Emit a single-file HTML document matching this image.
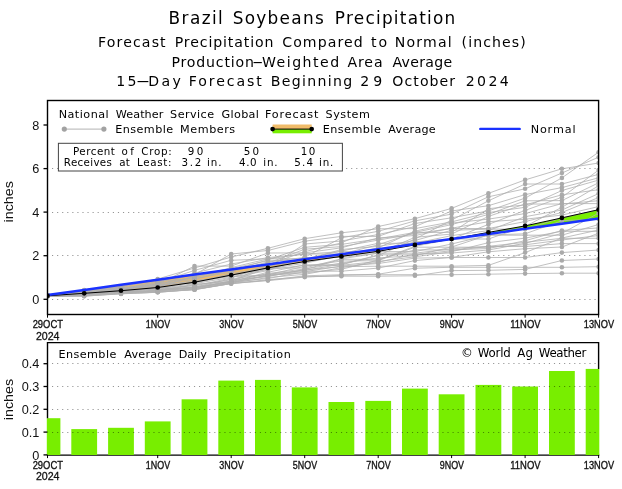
<!DOCTYPE html>
<html lang="en"><head><meta charset="utf-8"><title>Brazil Soybeans Precipitation</title>
<style>html,body{margin:0;padding:0;background:#fff}svg{display:block}</style></head>
<body>
<svg width="622" height="489" viewBox="0 0 622 489" font-family='"Liberation Sans", sans-serif'>
<rect width="622" height="489" fill="#fff"/>
<line x1="52.0" x2="598.6" y1="299.5" y2="299.5" stroke="#000" stroke-opacity="0.42" stroke-width="1" stroke-dasharray="1.15 3.92"/>
<line x1="52.0" x2="598.6" y1="255.5" y2="255.5" stroke="#000" stroke-opacity="0.42" stroke-width="1" stroke-dasharray="1.15 3.92"/>
<line x1="52.0" x2="598.6" y1="212.5" y2="212.5" stroke="#000" stroke-opacity="0.42" stroke-width="1" stroke-dasharray="1.15 3.92"/>
<line x1="52.0" x2="598.6" y1="168.5" y2="168.5" stroke="#000" stroke-opacity="0.42" stroke-width="1" stroke-dasharray="1.15 3.92"/>
<clipPath id="cp"><rect x="47.5" y="100.5" width="551.1" height="214.0"/></clipPath><g clip-path="url(#cp)">
<polygon points="47.50,295.79 84.24,293.33 84.24,289.85 47.50,294.94" fill="#f0bc6a"/>
<polygon points="84.24,293.33 120.98,290.74 120.98,284.77 84.24,289.85" fill="#f0bc6a"/>
<polygon points="120.98,290.74 157.72,287.53 157.72,279.68 120.98,284.77" fill="#f0bc6a"/>
<polygon points="157.72,287.53 194.46,282.22 194.46,274.59 157.72,279.68" fill="#f0bc6a"/>
<polygon points="194.46,282.22 231.20,275.11 231.20,269.50 194.46,274.59" fill="#f0bc6a"/>
<polygon points="231.20,275.11 267.94,267.94 267.94,264.41 231.20,269.50" fill="#f0bc6a"/>
<polygon points="267.94,267.94 304.68,261.49 304.68,259.33 267.94,264.41" fill="#f0bc6a"/>
<polygon points="304.68,261.49 341.42,256.44 341.42,254.24 304.68,259.33" fill="#f0bc6a"/>
<polygon points="341.42,256.44 378.16,251.27 378.16,249.15 341.42,254.24" fill="#f0bc6a"/>
<polygon points="378.16,251.27 414.90,244.93 414.90,244.06 378.16,249.15" fill="#f0bc6a"/>
<polygon points="414.90,244.93 451.64,239.14 451.64,238.97 414.90,244.06" fill="#f0bc6a"/>
<polygon points="451.64,239.14 455.39,238.46 455.39,238.46 451.64,238.97" fill="#f0bc6a"/>
<polygon points="455.39,238.46 488.38,232.45 488.38,233.89 455.39,238.46" fill="#78ee00"/>
<polygon points="488.38,232.45 525.12,225.91 525.12,228.80 488.38,233.89" fill="#78ee00"/>
<polygon points="525.12,225.91 561.86,217.89 561.86,223.71 525.12,228.80" fill="#78ee00"/>
<polygon points="561.86,217.89 598.60,209.68 598.60,218.62 561.86,223.71" fill="#78ee00"/>
<g stroke="#b0b0b0" stroke-width="0.8" fill="none">
<polyline points="47.5,296.0 84.2,293.4 121.0,289.3 157.7,283.3 194.5,277.5 231.2,267.6 267.9,258.9 304.7,254.0 341.4,254.0 378.2,244.8 414.9,232.4 451.6,224.6 488.4,214.4 525.1,200.8 561.9,200.6 598.6,182.8"/>
<polyline points="47.5,296.0 84.2,294.9 121.0,292.6 157.7,290.3 194.5,288.1 231.2,282.2 267.9,278.5 304.7,271.7 341.4,266.0 378.2,263.5 414.9,258.1 451.6,257.5 488.4,257.5 525.1,257.5 561.9,252.6 598.6,250.0"/>
<polyline points="47.5,295.9 84.2,295.8 121.0,293.7 157.7,292.3 194.5,289.2 231.2,283.6 267.9,279.7 304.7,276.7 341.4,276.2 378.2,276.2 414.9,275.8 451.6,270.6 488.4,270.3 525.1,269.4 561.9,260.5 598.6,259.0"/>
<polyline points="47.5,295.4 84.2,292.5 121.0,290.4 157.7,289.4 194.5,287.6 231.2,281.9 267.9,275.5 304.7,269.9 341.4,266.7 378.2,266.2 414.9,266.2 451.6,266.2 488.4,265.4 525.1,252.6 561.9,238.0 598.6,230.0"/>
<polyline points="47.5,296.0 84.2,294.5 121.0,291.9 157.7,287.7 194.5,282.3 231.2,273.6 267.9,267.8 304.7,244.0 341.4,241.0 378.2,234.5 414.9,226.7 451.6,211.0 488.4,205.7 525.1,194.6 561.9,187.6 598.6,177.8"/>
<polyline points="47.5,296.2 84.2,296.1 121.0,293.9 157.7,292.1 194.5,289.7 231.2,283.2 267.9,277.5 304.7,274.3 341.4,267.7 378.2,262.3 414.9,254.1 451.6,253.0 488.4,250.0 525.1,243.3 561.9,233.4 598.6,213.1"/>
<polyline points="47.5,295.6 84.2,291.9 121.0,289.6 157.7,284.2 194.5,266.1 231.2,266.1 267.9,253.0 304.7,252.9 341.4,247.8 378.2,237.9 414.9,235.5 451.6,228.2 488.4,221.7 525.1,219.2 561.9,215.1 598.6,206.6"/>
<polyline points="47.5,296.1 84.2,294.7 121.0,292.3 157.7,290.5 194.5,287.2 231.2,278.8 267.9,274.3 304.7,270.4 341.4,264.2 378.2,255.6 414.9,239.1 451.6,220.1 488.4,200.8 525.1,184.0 561.9,184.0 598.6,174.4"/>
<polyline points="47.5,296.0 84.2,293.3 121.0,291.2 157.7,286.8 194.5,276.6 231.2,270.8 267.9,259.8 304.7,247.3 341.4,244.4 378.2,238.9 414.9,232.4 451.6,232.4 488.4,208.7 525.1,204.9 561.9,194.8 598.6,189.7"/>
<polyline points="47.5,295.8 84.2,293.9 121.0,291.0 157.7,288.8 194.5,287.5 231.2,281.7 267.9,272.2 304.7,264.9 341.4,264.9 378.2,254.8 414.9,254.8 451.6,250.7 488.4,246.5 525.1,246.5 561.9,243.6 598.6,243.6"/>
<polyline points="47.5,295.7 84.2,293.1 121.0,289.9 157.7,283.8 194.5,279.5 231.2,269.7 267.9,263.2 304.7,249.2 341.4,246.6 378.2,240.1 414.9,233.7 451.6,228.5 488.4,228.5 525.1,221.6 561.9,212.5 598.6,197.5"/>
<polyline points="47.5,295.2 84.2,290.8 121.0,286.7 157.7,279.0 194.5,268.0 231.2,257.0 267.9,248.3 304.7,238.7 341.4,232.8 378.2,228.8 414.9,228.6 451.6,221.9 488.4,212.6 525.1,207.3 561.9,190.5 598.6,180.1"/>
<polyline points="47.5,295.5 84.2,291.7 121.0,288.5 157.7,287.3 194.5,275.8 231.2,268.6 267.9,260.8 304.7,260.0 341.4,249.5 378.2,246.4 414.9,240.5 451.6,230.3 488.4,229.1 525.1,229.1 561.9,217.9 598.6,209.8"/>
<polyline points="47.5,295.8 84.2,292.8 121.0,290.6 157.7,290.0 194.5,288.4 231.2,280.8 267.9,265.8 304.7,262.1 341.4,256.3 378.2,251.7 414.9,241.9 451.6,239.0 488.4,239.0 525.1,226.5 561.9,207.3 598.6,185.8"/>
<polyline points="47.5,296.1 84.2,294.5 121.0,292.5 157.7,290.7 194.5,284.9 231.2,279.9 267.9,276.5 304.7,269.5 341.4,259.3 378.2,259.3 414.9,249.9 451.6,249.9 488.4,248.5 525.1,240.7 561.9,230.5 598.6,227.9"/>
<polyline points="47.5,296.2 84.2,295.4 121.0,293.2 157.7,290.4 194.5,284.3 231.2,281.5 267.9,273.5 304.7,269.0 341.4,263.0 378.2,257.9 414.9,255.7 451.6,247.0 488.4,235.0 525.1,233.8 561.9,220.7 598.6,219.1"/>
<polyline points="47.5,295.7 84.2,292.3 121.0,288.9 157.7,282.5 194.5,270.4 231.2,260.3 267.9,258.8 304.7,258.8 341.4,251.1 378.2,243.3 414.9,243.3 451.6,235.6 488.4,230.6 525.1,216.7 561.9,210.0 598.6,193.6"/>
<polyline points="47.5,295.2 84.2,290.1 121.0,287.1 157.7,280.1 194.5,274.7 231.2,254.0 267.9,250.5 304.7,241.2 341.4,236.4 378.2,236.4 414.9,223.5 451.6,217.8 488.4,210.9 525.1,198.1 561.9,177.9 598.6,152.2"/>
<polyline points="47.5,295.8 84.2,293.6 121.0,292.1 157.7,291.4 194.5,288.8 231.2,282.8 267.9,274.8 304.7,266.3 341.4,261.0 378.2,260.7 414.9,247.2 451.6,247.2 488.4,247.2 525.1,244.8 561.9,240.0 598.6,235.5"/>
<polyline points="47.5,295.9 84.2,294.2 121.0,291.6 157.7,288.4 194.5,283.7 231.2,277.3 267.9,270.6 304.7,257.3 341.4,237.8 378.2,231.3 414.9,220.9 451.6,214.1 488.4,196.8 525.1,188.8 561.9,173.0 598.6,157.2"/>
<polyline points="47.5,295.5 84.2,292.9 121.0,290.8 157.7,288.0 194.5,286.0 231.2,278.0 267.9,264.6 304.7,251.7 341.4,242.9 378.2,226.5 414.9,218.7 451.6,208.4 488.4,193.4 525.1,179.9 561.9,168.8 598.6,163.0"/>
<polyline points="47.5,296.2 84.2,296.2 121.0,293.5 157.7,292.3 194.5,289.5 231.2,283.5 267.9,280.3 304.7,275.8 341.4,274.7 378.2,274.7 414.9,274.7 451.6,274.7 488.4,274.2 525.1,273.6 561.9,273.2 598.6,273.2"/>
<polyline points="47.5,296.1 84.2,294.4 121.0,292.9 157.7,291.7 194.5,289.7 231.2,283.6 267.9,280.6 304.7,277.1 341.4,275.3 378.2,274.2 414.9,268.2 451.6,267.3 488.4,267.3 525.1,267.3 561.9,267.3 598.6,266.7"/>
<polyline points="47.5,295.5 84.2,290.4 121.0,288.7 157.7,285.7 194.5,273.1 231.2,264.0 267.9,257.6 304.7,254.1 341.4,251.6 378.2,251.6 414.9,251.6 451.6,244.0 488.4,235.2 525.1,235.2 561.9,235.2 598.6,224.5"/>
<polyline points="47.5,295.3 84.2,292.1 121.0,290.2 157.7,284.7 194.5,281.6 231.2,274.8 267.9,268.7 304.7,263.3 341.4,255.1 378.2,247.8 414.9,231.2 451.6,223.1 488.4,219.1 525.1,213.6 561.9,203.6 598.6,203.6"/>
<polyline points="47.5,296.0 84.2,294.6 121.0,292.2 157.7,291.1 194.5,287.8 231.2,282.4 267.9,276.0 304.7,271.2 341.4,271.2 378.2,268.1 414.9,260.6 451.6,257.4 488.4,251.8 525.1,248.7 561.9,247.0 598.6,233.2"/>
<polyline points="47.5,295.6 84.2,291.8 121.0,287.6 157.7,285.1 194.5,283.0 231.2,275.7 267.9,269.6 304.7,265.3 341.4,265.3 378.2,261.4 414.9,256.8 451.6,251.7 488.4,242.7 525.1,238.1 561.9,231.3 598.6,231.3"/>
<polyline points="47.5,295.7 84.2,291.5 121.0,289.1 157.7,281.2 194.5,278.4 231.2,272.2 267.9,261.8 304.7,257.5 341.4,257.5 378.2,253.1 414.9,237.3 451.6,234.1 488.4,216.4 525.1,204.0 561.9,204.0 598.6,200.7"/>
<polyline points="47.5,295.4 84.2,291.2 121.0,288.1 157.7,286.3 194.5,280.6 231.2,276.5 267.9,275.1 304.7,272.9 341.4,269.3 378.2,260.1 414.9,246.3 451.6,239.0 488.4,224.4 525.1,210.4 561.9,197.3 598.6,170.1"/>
<polyline points="47.5,296.2 84.2,295.1 121.0,292.4 157.7,290.9 194.5,286.8 231.2,281.3 267.9,268.0 304.7,268.0 341.4,258.8 378.2,253.2 414.9,253.2 451.6,248.8 488.4,246.3 525.1,242.3 561.9,238.3 598.6,238.3"/>
</g>
<g fill="#aaaaaa">
<circle cx="47.5" cy="296.0" r="2.3"/>
<circle cx="84.2" cy="293.4" r="2.3"/>
<circle cx="121.0" cy="289.3" r="2.3"/>
<circle cx="157.7" cy="283.3" r="2.3"/>
<circle cx="194.5" cy="277.5" r="2.3"/>
<circle cx="231.2" cy="267.6" r="2.3"/>
<circle cx="267.9" cy="258.9" r="2.3"/>
<circle cx="304.7" cy="254.0" r="2.3"/>
<circle cx="341.4" cy="254.0" r="2.3"/>
<circle cx="378.2" cy="244.8" r="2.3"/>
<circle cx="414.9" cy="232.4" r="2.3"/>
<circle cx="451.6" cy="224.6" r="2.3"/>
<circle cx="488.4" cy="214.4" r="2.3"/>
<circle cx="525.1" cy="200.8" r="2.3"/>
<circle cx="561.9" cy="200.6" r="2.3"/>
<circle cx="598.6" cy="182.8" r="2.3"/>
<circle cx="47.5" cy="296.0" r="2.3"/>
<circle cx="84.2" cy="294.9" r="2.3"/>
<circle cx="121.0" cy="292.6" r="2.3"/>
<circle cx="157.7" cy="290.3" r="2.3"/>
<circle cx="194.5" cy="288.1" r="2.3"/>
<circle cx="231.2" cy="282.2" r="2.3"/>
<circle cx="267.9" cy="278.5" r="2.3"/>
<circle cx="304.7" cy="271.7" r="2.3"/>
<circle cx="341.4" cy="266.0" r="2.3"/>
<circle cx="378.2" cy="263.5" r="2.3"/>
<circle cx="414.9" cy="258.1" r="2.3"/>
<circle cx="451.6" cy="257.5" r="2.3"/>
<circle cx="488.4" cy="257.5" r="2.3"/>
<circle cx="525.1" cy="257.5" r="2.3"/>
<circle cx="561.9" cy="252.6" r="2.3"/>
<circle cx="598.6" cy="250.0" r="2.3"/>
<circle cx="47.5" cy="295.9" r="2.3"/>
<circle cx="84.2" cy="295.8" r="2.3"/>
<circle cx="121.0" cy="293.7" r="2.3"/>
<circle cx="157.7" cy="292.3" r="2.3"/>
<circle cx="194.5" cy="289.2" r="2.3"/>
<circle cx="231.2" cy="283.6" r="2.3"/>
<circle cx="267.9" cy="279.7" r="2.3"/>
<circle cx="304.7" cy="276.7" r="2.3"/>
<circle cx="341.4" cy="276.2" r="2.3"/>
<circle cx="378.2" cy="276.2" r="2.3"/>
<circle cx="414.9" cy="275.8" r="2.3"/>
<circle cx="451.6" cy="270.6" r="2.3"/>
<circle cx="488.4" cy="270.3" r="2.3"/>
<circle cx="525.1" cy="269.4" r="2.3"/>
<circle cx="561.9" cy="260.5" r="2.3"/>
<circle cx="598.6" cy="259.0" r="2.3"/>
<circle cx="47.5" cy="295.4" r="2.3"/>
<circle cx="84.2" cy="292.5" r="2.3"/>
<circle cx="121.0" cy="290.4" r="2.3"/>
<circle cx="157.7" cy="289.4" r="2.3"/>
<circle cx="194.5" cy="287.6" r="2.3"/>
<circle cx="231.2" cy="281.9" r="2.3"/>
<circle cx="267.9" cy="275.5" r="2.3"/>
<circle cx="304.7" cy="269.9" r="2.3"/>
<circle cx="341.4" cy="266.7" r="2.3"/>
<circle cx="378.2" cy="266.2" r="2.3"/>
<circle cx="414.9" cy="266.2" r="2.3"/>
<circle cx="451.6" cy="266.2" r="2.3"/>
<circle cx="488.4" cy="265.4" r="2.3"/>
<circle cx="525.1" cy="252.6" r="2.3"/>
<circle cx="561.9" cy="238.0" r="2.3"/>
<circle cx="598.6" cy="230.0" r="2.3"/>
<circle cx="47.5" cy="296.0" r="2.3"/>
<circle cx="84.2" cy="294.5" r="2.3"/>
<circle cx="121.0" cy="291.9" r="2.3"/>
<circle cx="157.7" cy="287.7" r="2.3"/>
<circle cx="194.5" cy="282.3" r="2.3"/>
<circle cx="231.2" cy="273.6" r="2.3"/>
<circle cx="267.9" cy="267.8" r="2.3"/>
<circle cx="304.7" cy="244.0" r="2.3"/>
<circle cx="341.4" cy="241.0" r="2.3"/>
<circle cx="378.2" cy="234.5" r="2.3"/>
<circle cx="414.9" cy="226.7" r="2.3"/>
<circle cx="451.6" cy="211.0" r="2.3"/>
<circle cx="488.4" cy="205.7" r="2.3"/>
<circle cx="525.1" cy="194.6" r="2.3"/>
<circle cx="561.9" cy="187.6" r="2.3"/>
<circle cx="598.6" cy="177.8" r="2.3"/>
<circle cx="47.5" cy="296.2" r="2.3"/>
<circle cx="84.2" cy="296.1" r="2.3"/>
<circle cx="121.0" cy="293.9" r="2.3"/>
<circle cx="157.7" cy="292.1" r="2.3"/>
<circle cx="194.5" cy="289.7" r="2.3"/>
<circle cx="231.2" cy="283.2" r="2.3"/>
<circle cx="267.9" cy="277.5" r="2.3"/>
<circle cx="304.7" cy="274.3" r="2.3"/>
<circle cx="341.4" cy="267.7" r="2.3"/>
<circle cx="378.2" cy="262.3" r="2.3"/>
<circle cx="414.9" cy="254.1" r="2.3"/>
<circle cx="451.6" cy="253.0" r="2.3"/>
<circle cx="488.4" cy="250.0" r="2.3"/>
<circle cx="525.1" cy="243.3" r="2.3"/>
<circle cx="561.9" cy="233.4" r="2.3"/>
<circle cx="598.6" cy="213.1" r="2.3"/>
<circle cx="47.5" cy="295.6" r="2.3"/>
<circle cx="84.2" cy="291.9" r="2.3"/>
<circle cx="121.0" cy="289.6" r="2.3"/>
<circle cx="157.7" cy="284.2" r="2.3"/>
<circle cx="194.5" cy="266.1" r="2.3"/>
<circle cx="231.2" cy="266.1" r="2.3"/>
<circle cx="267.9" cy="253.0" r="2.3"/>
<circle cx="304.7" cy="252.9" r="2.3"/>
<circle cx="341.4" cy="247.8" r="2.3"/>
<circle cx="378.2" cy="237.9" r="2.3"/>
<circle cx="414.9" cy="235.5" r="2.3"/>
<circle cx="451.6" cy="228.2" r="2.3"/>
<circle cx="488.4" cy="221.7" r="2.3"/>
<circle cx="525.1" cy="219.2" r="2.3"/>
<circle cx="561.9" cy="215.1" r="2.3"/>
<circle cx="598.6" cy="206.6" r="2.3"/>
<circle cx="47.5" cy="296.1" r="2.3"/>
<circle cx="84.2" cy="294.7" r="2.3"/>
<circle cx="121.0" cy="292.3" r="2.3"/>
<circle cx="157.7" cy="290.5" r="2.3"/>
<circle cx="194.5" cy="287.2" r="2.3"/>
<circle cx="231.2" cy="278.8" r="2.3"/>
<circle cx="267.9" cy="274.3" r="2.3"/>
<circle cx="304.7" cy="270.4" r="2.3"/>
<circle cx="341.4" cy="264.2" r="2.3"/>
<circle cx="378.2" cy="255.6" r="2.3"/>
<circle cx="414.9" cy="239.1" r="2.3"/>
<circle cx="451.6" cy="220.1" r="2.3"/>
<circle cx="488.4" cy="200.8" r="2.3"/>
<circle cx="525.1" cy="184.0" r="2.3"/>
<circle cx="561.9" cy="184.0" r="2.3"/>
<circle cx="598.6" cy="174.4" r="2.3"/>
<circle cx="47.5" cy="296.0" r="2.3"/>
<circle cx="84.2" cy="293.3" r="2.3"/>
<circle cx="121.0" cy="291.2" r="2.3"/>
<circle cx="157.7" cy="286.8" r="2.3"/>
<circle cx="194.5" cy="276.6" r="2.3"/>
<circle cx="231.2" cy="270.8" r="2.3"/>
<circle cx="267.9" cy="259.8" r="2.3"/>
<circle cx="304.7" cy="247.3" r="2.3"/>
<circle cx="341.4" cy="244.4" r="2.3"/>
<circle cx="378.2" cy="238.9" r="2.3"/>
<circle cx="414.9" cy="232.4" r="2.3"/>
<circle cx="451.6" cy="232.4" r="2.3"/>
<circle cx="488.4" cy="208.7" r="2.3"/>
<circle cx="525.1" cy="204.9" r="2.3"/>
<circle cx="561.9" cy="194.8" r="2.3"/>
<circle cx="598.6" cy="189.7" r="2.3"/>
<circle cx="47.5" cy="295.8" r="2.3"/>
<circle cx="84.2" cy="293.9" r="2.3"/>
<circle cx="121.0" cy="291.0" r="2.3"/>
<circle cx="157.7" cy="288.8" r="2.3"/>
<circle cx="194.5" cy="287.5" r="2.3"/>
<circle cx="231.2" cy="281.7" r="2.3"/>
<circle cx="267.9" cy="272.2" r="2.3"/>
<circle cx="304.7" cy="264.9" r="2.3"/>
<circle cx="341.4" cy="264.9" r="2.3"/>
<circle cx="378.2" cy="254.8" r="2.3"/>
<circle cx="414.9" cy="254.8" r="2.3"/>
<circle cx="451.6" cy="250.7" r="2.3"/>
<circle cx="488.4" cy="246.5" r="2.3"/>
<circle cx="525.1" cy="246.5" r="2.3"/>
<circle cx="561.9" cy="243.6" r="2.3"/>
<circle cx="598.6" cy="243.6" r="2.3"/>
<circle cx="47.5" cy="295.7" r="2.3"/>
<circle cx="84.2" cy="293.1" r="2.3"/>
<circle cx="121.0" cy="289.9" r="2.3"/>
<circle cx="157.7" cy="283.8" r="2.3"/>
<circle cx="194.5" cy="279.5" r="2.3"/>
<circle cx="231.2" cy="269.7" r="2.3"/>
<circle cx="267.9" cy="263.2" r="2.3"/>
<circle cx="304.7" cy="249.2" r="2.3"/>
<circle cx="341.4" cy="246.6" r="2.3"/>
<circle cx="378.2" cy="240.1" r="2.3"/>
<circle cx="414.9" cy="233.7" r="2.3"/>
<circle cx="451.6" cy="228.5" r="2.3"/>
<circle cx="488.4" cy="228.5" r="2.3"/>
<circle cx="525.1" cy="221.6" r="2.3"/>
<circle cx="561.9" cy="212.5" r="2.3"/>
<circle cx="598.6" cy="197.5" r="2.3"/>
<circle cx="47.5" cy="295.2" r="2.3"/>
<circle cx="84.2" cy="290.8" r="2.3"/>
<circle cx="121.0" cy="286.7" r="2.3"/>
<circle cx="157.7" cy="279.0" r="2.3"/>
<circle cx="194.5" cy="268.0" r="2.3"/>
<circle cx="231.2" cy="257.0" r="2.3"/>
<circle cx="267.9" cy="248.3" r="2.3"/>
<circle cx="304.7" cy="238.7" r="2.3"/>
<circle cx="341.4" cy="232.8" r="2.3"/>
<circle cx="378.2" cy="228.8" r="2.3"/>
<circle cx="414.9" cy="228.6" r="2.3"/>
<circle cx="451.6" cy="221.9" r="2.3"/>
<circle cx="488.4" cy="212.6" r="2.3"/>
<circle cx="525.1" cy="207.3" r="2.3"/>
<circle cx="561.9" cy="190.5" r="2.3"/>
<circle cx="598.6" cy="180.1" r="2.3"/>
<circle cx="47.5" cy="295.5" r="2.3"/>
<circle cx="84.2" cy="291.7" r="2.3"/>
<circle cx="121.0" cy="288.5" r="2.3"/>
<circle cx="157.7" cy="287.3" r="2.3"/>
<circle cx="194.5" cy="275.8" r="2.3"/>
<circle cx="231.2" cy="268.6" r="2.3"/>
<circle cx="267.9" cy="260.8" r="2.3"/>
<circle cx="304.7" cy="260.0" r="2.3"/>
<circle cx="341.4" cy="249.5" r="2.3"/>
<circle cx="378.2" cy="246.4" r="2.3"/>
<circle cx="414.9" cy="240.5" r="2.3"/>
<circle cx="451.6" cy="230.3" r="2.3"/>
<circle cx="488.4" cy="229.1" r="2.3"/>
<circle cx="525.1" cy="229.1" r="2.3"/>
<circle cx="561.9" cy="217.9" r="2.3"/>
<circle cx="598.6" cy="209.8" r="2.3"/>
<circle cx="47.5" cy="295.8" r="2.3"/>
<circle cx="84.2" cy="292.8" r="2.3"/>
<circle cx="121.0" cy="290.6" r="2.3"/>
<circle cx="157.7" cy="290.0" r="2.3"/>
<circle cx="194.5" cy="288.4" r="2.3"/>
<circle cx="231.2" cy="280.8" r="2.3"/>
<circle cx="267.9" cy="265.8" r="2.3"/>
<circle cx="304.7" cy="262.1" r="2.3"/>
<circle cx="341.4" cy="256.3" r="2.3"/>
<circle cx="378.2" cy="251.7" r="2.3"/>
<circle cx="414.9" cy="241.9" r="2.3"/>
<circle cx="451.6" cy="239.0" r="2.3"/>
<circle cx="488.4" cy="239.0" r="2.3"/>
<circle cx="525.1" cy="226.5" r="2.3"/>
<circle cx="561.9" cy="207.3" r="2.3"/>
<circle cx="598.6" cy="185.8" r="2.3"/>
<circle cx="47.5" cy="296.1" r="2.3"/>
<circle cx="84.2" cy="294.5" r="2.3"/>
<circle cx="121.0" cy="292.5" r="2.3"/>
<circle cx="157.7" cy="290.7" r="2.3"/>
<circle cx="194.5" cy="284.9" r="2.3"/>
<circle cx="231.2" cy="279.9" r="2.3"/>
<circle cx="267.9" cy="276.5" r="2.3"/>
<circle cx="304.7" cy="269.5" r="2.3"/>
<circle cx="341.4" cy="259.3" r="2.3"/>
<circle cx="378.2" cy="259.3" r="2.3"/>
<circle cx="414.9" cy="249.9" r="2.3"/>
<circle cx="451.6" cy="249.9" r="2.3"/>
<circle cx="488.4" cy="248.5" r="2.3"/>
<circle cx="525.1" cy="240.7" r="2.3"/>
<circle cx="561.9" cy="230.5" r="2.3"/>
<circle cx="598.6" cy="227.9" r="2.3"/>
<circle cx="47.5" cy="296.2" r="2.3"/>
<circle cx="84.2" cy="295.4" r="2.3"/>
<circle cx="121.0" cy="293.2" r="2.3"/>
<circle cx="157.7" cy="290.4" r="2.3"/>
<circle cx="194.5" cy="284.3" r="2.3"/>
<circle cx="231.2" cy="281.5" r="2.3"/>
<circle cx="267.9" cy="273.5" r="2.3"/>
<circle cx="304.7" cy="269.0" r="2.3"/>
<circle cx="341.4" cy="263.0" r="2.3"/>
<circle cx="378.2" cy="257.9" r="2.3"/>
<circle cx="414.9" cy="255.7" r="2.3"/>
<circle cx="451.6" cy="247.0" r="2.3"/>
<circle cx="488.4" cy="235.0" r="2.3"/>
<circle cx="525.1" cy="233.8" r="2.3"/>
<circle cx="561.9" cy="220.7" r="2.3"/>
<circle cx="598.6" cy="219.1" r="2.3"/>
<circle cx="47.5" cy="295.7" r="2.3"/>
<circle cx="84.2" cy="292.3" r="2.3"/>
<circle cx="121.0" cy="288.9" r="2.3"/>
<circle cx="157.7" cy="282.5" r="2.3"/>
<circle cx="194.5" cy="270.4" r="2.3"/>
<circle cx="231.2" cy="260.3" r="2.3"/>
<circle cx="267.9" cy="258.8" r="2.3"/>
<circle cx="304.7" cy="258.8" r="2.3"/>
<circle cx="341.4" cy="251.1" r="2.3"/>
<circle cx="378.2" cy="243.3" r="2.3"/>
<circle cx="414.9" cy="243.3" r="2.3"/>
<circle cx="451.6" cy="235.6" r="2.3"/>
<circle cx="488.4" cy="230.6" r="2.3"/>
<circle cx="525.1" cy="216.7" r="2.3"/>
<circle cx="561.9" cy="210.0" r="2.3"/>
<circle cx="598.6" cy="193.6" r="2.3"/>
<circle cx="47.5" cy="295.2" r="2.3"/>
<circle cx="84.2" cy="290.1" r="2.3"/>
<circle cx="121.0" cy="287.1" r="2.3"/>
<circle cx="157.7" cy="280.1" r="2.3"/>
<circle cx="194.5" cy="274.7" r="2.3"/>
<circle cx="231.2" cy="254.0" r="2.3"/>
<circle cx="267.9" cy="250.5" r="2.3"/>
<circle cx="304.7" cy="241.2" r="2.3"/>
<circle cx="341.4" cy="236.4" r="2.3"/>
<circle cx="378.2" cy="236.4" r="2.3"/>
<circle cx="414.9" cy="223.5" r="2.3"/>
<circle cx="451.6" cy="217.8" r="2.3"/>
<circle cx="488.4" cy="210.9" r="2.3"/>
<circle cx="525.1" cy="198.1" r="2.3"/>
<circle cx="561.9" cy="177.9" r="2.3"/>
<circle cx="598.6" cy="152.2" r="2.3"/>
<circle cx="47.5" cy="295.8" r="2.3"/>
<circle cx="84.2" cy="293.6" r="2.3"/>
<circle cx="121.0" cy="292.1" r="2.3"/>
<circle cx="157.7" cy="291.4" r="2.3"/>
<circle cx="194.5" cy="288.8" r="2.3"/>
<circle cx="231.2" cy="282.8" r="2.3"/>
<circle cx="267.9" cy="274.8" r="2.3"/>
<circle cx="304.7" cy="266.3" r="2.3"/>
<circle cx="341.4" cy="261.0" r="2.3"/>
<circle cx="378.2" cy="260.7" r="2.3"/>
<circle cx="414.9" cy="247.2" r="2.3"/>
<circle cx="451.6" cy="247.2" r="2.3"/>
<circle cx="488.4" cy="247.2" r="2.3"/>
<circle cx="525.1" cy="244.8" r="2.3"/>
<circle cx="561.9" cy="240.0" r="2.3"/>
<circle cx="598.6" cy="235.5" r="2.3"/>
<circle cx="47.5" cy="295.9" r="2.3"/>
<circle cx="84.2" cy="294.2" r="2.3"/>
<circle cx="121.0" cy="291.6" r="2.3"/>
<circle cx="157.7" cy="288.4" r="2.3"/>
<circle cx="194.5" cy="283.7" r="2.3"/>
<circle cx="231.2" cy="277.3" r="2.3"/>
<circle cx="267.9" cy="270.6" r="2.3"/>
<circle cx="304.7" cy="257.3" r="2.3"/>
<circle cx="341.4" cy="237.8" r="2.3"/>
<circle cx="378.2" cy="231.3" r="2.3"/>
<circle cx="414.9" cy="220.9" r="2.3"/>
<circle cx="451.6" cy="214.1" r="2.3"/>
<circle cx="488.4" cy="196.8" r="2.3"/>
<circle cx="525.1" cy="188.8" r="2.3"/>
<circle cx="561.9" cy="173.0" r="2.3"/>
<circle cx="598.6" cy="157.2" r="2.3"/>
<circle cx="47.5" cy="295.5" r="2.3"/>
<circle cx="84.2" cy="292.9" r="2.3"/>
<circle cx="121.0" cy="290.8" r="2.3"/>
<circle cx="157.7" cy="288.0" r="2.3"/>
<circle cx="194.5" cy="286.0" r="2.3"/>
<circle cx="231.2" cy="278.0" r="2.3"/>
<circle cx="267.9" cy="264.6" r="2.3"/>
<circle cx="304.7" cy="251.7" r="2.3"/>
<circle cx="341.4" cy="242.9" r="2.3"/>
<circle cx="378.2" cy="226.5" r="2.3"/>
<circle cx="414.9" cy="218.7" r="2.3"/>
<circle cx="451.6" cy="208.4" r="2.3"/>
<circle cx="488.4" cy="193.4" r="2.3"/>
<circle cx="525.1" cy="179.9" r="2.3"/>
<circle cx="561.9" cy="168.8" r="2.3"/>
<circle cx="598.6" cy="163.0" r="2.3"/>
<circle cx="47.5" cy="296.2" r="2.3"/>
<circle cx="84.2" cy="296.2" r="2.3"/>
<circle cx="121.0" cy="293.5" r="2.3"/>
<circle cx="157.7" cy="292.3" r="2.3"/>
<circle cx="194.5" cy="289.5" r="2.3"/>
<circle cx="231.2" cy="283.5" r="2.3"/>
<circle cx="267.9" cy="280.3" r="2.3"/>
<circle cx="304.7" cy="275.8" r="2.3"/>
<circle cx="341.4" cy="274.7" r="2.3"/>
<circle cx="378.2" cy="274.7" r="2.3"/>
<circle cx="414.9" cy="274.7" r="2.3"/>
<circle cx="451.6" cy="274.7" r="2.3"/>
<circle cx="488.4" cy="274.2" r="2.3"/>
<circle cx="525.1" cy="273.6" r="2.3"/>
<circle cx="561.9" cy="273.2" r="2.3"/>
<circle cx="598.6" cy="273.2" r="2.3"/>
<circle cx="47.5" cy="296.1" r="2.3"/>
<circle cx="84.2" cy="294.4" r="2.3"/>
<circle cx="121.0" cy="292.9" r="2.3"/>
<circle cx="157.7" cy="291.7" r="2.3"/>
<circle cx="194.5" cy="289.7" r="2.3"/>
<circle cx="231.2" cy="283.6" r="2.3"/>
<circle cx="267.9" cy="280.6" r="2.3"/>
<circle cx="304.7" cy="277.1" r="2.3"/>
<circle cx="341.4" cy="275.3" r="2.3"/>
<circle cx="378.2" cy="274.2" r="2.3"/>
<circle cx="414.9" cy="268.2" r="2.3"/>
<circle cx="451.6" cy="267.3" r="2.3"/>
<circle cx="488.4" cy="267.3" r="2.3"/>
<circle cx="525.1" cy="267.3" r="2.3"/>
<circle cx="561.9" cy="267.3" r="2.3"/>
<circle cx="598.6" cy="266.7" r="2.3"/>
<circle cx="47.5" cy="295.5" r="2.3"/>
<circle cx="84.2" cy="290.4" r="2.3"/>
<circle cx="121.0" cy="288.7" r="2.3"/>
<circle cx="157.7" cy="285.7" r="2.3"/>
<circle cx="194.5" cy="273.1" r="2.3"/>
<circle cx="231.2" cy="264.0" r="2.3"/>
<circle cx="267.9" cy="257.6" r="2.3"/>
<circle cx="304.7" cy="254.1" r="2.3"/>
<circle cx="341.4" cy="251.6" r="2.3"/>
<circle cx="378.2" cy="251.6" r="2.3"/>
<circle cx="414.9" cy="251.6" r="2.3"/>
<circle cx="451.6" cy="244.0" r="2.3"/>
<circle cx="488.4" cy="235.2" r="2.3"/>
<circle cx="525.1" cy="235.2" r="2.3"/>
<circle cx="561.9" cy="235.2" r="2.3"/>
<circle cx="598.6" cy="224.5" r="2.3"/>
<circle cx="47.5" cy="295.3" r="2.3"/>
<circle cx="84.2" cy="292.1" r="2.3"/>
<circle cx="121.0" cy="290.2" r="2.3"/>
<circle cx="157.7" cy="284.7" r="2.3"/>
<circle cx="194.5" cy="281.6" r="2.3"/>
<circle cx="231.2" cy="274.8" r="2.3"/>
<circle cx="267.9" cy="268.7" r="2.3"/>
<circle cx="304.7" cy="263.3" r="2.3"/>
<circle cx="341.4" cy="255.1" r="2.3"/>
<circle cx="378.2" cy="247.8" r="2.3"/>
<circle cx="414.9" cy="231.2" r="2.3"/>
<circle cx="451.6" cy="223.1" r="2.3"/>
<circle cx="488.4" cy="219.1" r="2.3"/>
<circle cx="525.1" cy="213.6" r="2.3"/>
<circle cx="561.9" cy="203.6" r="2.3"/>
<circle cx="598.6" cy="203.6" r="2.3"/>
<circle cx="47.5" cy="296.0" r="2.3"/>
<circle cx="84.2" cy="294.6" r="2.3"/>
<circle cx="121.0" cy="292.2" r="2.3"/>
<circle cx="157.7" cy="291.1" r="2.3"/>
<circle cx="194.5" cy="287.8" r="2.3"/>
<circle cx="231.2" cy="282.4" r="2.3"/>
<circle cx="267.9" cy="276.0" r="2.3"/>
<circle cx="304.7" cy="271.2" r="2.3"/>
<circle cx="341.4" cy="271.2" r="2.3"/>
<circle cx="378.2" cy="268.1" r="2.3"/>
<circle cx="414.9" cy="260.6" r="2.3"/>
<circle cx="451.6" cy="257.4" r="2.3"/>
<circle cx="488.4" cy="251.8" r="2.3"/>
<circle cx="525.1" cy="248.7" r="2.3"/>
<circle cx="561.9" cy="247.0" r="2.3"/>
<circle cx="598.6" cy="233.2" r="2.3"/>
<circle cx="47.5" cy="295.6" r="2.3"/>
<circle cx="84.2" cy="291.8" r="2.3"/>
<circle cx="121.0" cy="287.6" r="2.3"/>
<circle cx="157.7" cy="285.1" r="2.3"/>
<circle cx="194.5" cy="283.0" r="2.3"/>
<circle cx="231.2" cy="275.7" r="2.3"/>
<circle cx="267.9" cy="269.6" r="2.3"/>
<circle cx="304.7" cy="265.3" r="2.3"/>
<circle cx="341.4" cy="265.3" r="2.3"/>
<circle cx="378.2" cy="261.4" r="2.3"/>
<circle cx="414.9" cy="256.8" r="2.3"/>
<circle cx="451.6" cy="251.7" r="2.3"/>
<circle cx="488.4" cy="242.7" r="2.3"/>
<circle cx="525.1" cy="238.1" r="2.3"/>
<circle cx="561.9" cy="231.3" r="2.3"/>
<circle cx="598.6" cy="231.3" r="2.3"/>
<circle cx="47.5" cy="295.7" r="2.3"/>
<circle cx="84.2" cy="291.5" r="2.3"/>
<circle cx="121.0" cy="289.1" r="2.3"/>
<circle cx="157.7" cy="281.2" r="2.3"/>
<circle cx="194.5" cy="278.4" r="2.3"/>
<circle cx="231.2" cy="272.2" r="2.3"/>
<circle cx="267.9" cy="261.8" r="2.3"/>
<circle cx="304.7" cy="257.5" r="2.3"/>
<circle cx="341.4" cy="257.5" r="2.3"/>
<circle cx="378.2" cy="253.1" r="2.3"/>
<circle cx="414.9" cy="237.3" r="2.3"/>
<circle cx="451.6" cy="234.1" r="2.3"/>
<circle cx="488.4" cy="216.4" r="2.3"/>
<circle cx="525.1" cy="204.0" r="2.3"/>
<circle cx="561.9" cy="204.0" r="2.3"/>
<circle cx="598.6" cy="200.7" r="2.3"/>
<circle cx="47.5" cy="295.4" r="2.3"/>
<circle cx="84.2" cy="291.2" r="2.3"/>
<circle cx="121.0" cy="288.1" r="2.3"/>
<circle cx="157.7" cy="286.3" r="2.3"/>
<circle cx="194.5" cy="280.6" r="2.3"/>
<circle cx="231.2" cy="276.5" r="2.3"/>
<circle cx="267.9" cy="275.1" r="2.3"/>
<circle cx="304.7" cy="272.9" r="2.3"/>
<circle cx="341.4" cy="269.3" r="2.3"/>
<circle cx="378.2" cy="260.1" r="2.3"/>
<circle cx="414.9" cy="246.3" r="2.3"/>
<circle cx="451.6" cy="239.0" r="2.3"/>
<circle cx="488.4" cy="224.4" r="2.3"/>
<circle cx="525.1" cy="210.4" r="2.3"/>
<circle cx="561.9" cy="197.3" r="2.3"/>
<circle cx="598.6" cy="170.1" r="2.3"/>
<circle cx="47.5" cy="296.2" r="2.3"/>
<circle cx="84.2" cy="295.1" r="2.3"/>
<circle cx="121.0" cy="292.4" r="2.3"/>
<circle cx="157.7" cy="290.9" r="2.3"/>
<circle cx="194.5" cy="286.8" r="2.3"/>
<circle cx="231.2" cy="281.3" r="2.3"/>
<circle cx="267.9" cy="268.0" r="2.3"/>
<circle cx="304.7" cy="268.0" r="2.3"/>
<circle cx="341.4" cy="258.8" r="2.3"/>
<circle cx="378.2" cy="253.2" r="2.3"/>
<circle cx="414.9" cy="253.2" r="2.3"/>
<circle cx="451.6" cy="248.8" r="2.3"/>
<circle cx="488.4" cy="246.3" r="2.3"/>
<circle cx="525.1" cy="242.3" r="2.3"/>
<circle cx="561.9" cy="238.3" r="2.3"/>
<circle cx="598.6" cy="238.3" r="2.3"/>
</g>
<polyline points="47.5,295.8 84.2,293.3 121.0,290.7 157.7,287.5 194.5,282.2 231.2,275.1 267.9,267.9 304.7,261.5 341.4,256.4 378.2,251.3 414.9,244.9 451.6,239.1 488.4,232.4 525.1,225.9 561.9,217.9 598.6,209.7" fill="none" stroke="#000" stroke-width="1"/>
<polyline points="47.5,294.9 84.2,289.9 121.0,284.8 157.7,279.7 194.5,274.6 231.2,269.5 267.9,264.4 304.7,259.3 341.4,254.2 378.2,249.2 414.9,244.1 451.6,239.0 488.4,233.9 525.1,228.8 561.9,223.7 598.6,218.6" fill="none" stroke="#1a32ff" stroke-width="2.5"/>
<circle cx="47.5" cy="295.8" r="2.35" fill="#000"/>
<circle cx="84.2" cy="293.3" r="2.35" fill="#000"/>
<circle cx="121.0" cy="290.7" r="2.35" fill="#000"/>
<circle cx="157.7" cy="287.5" r="2.35" fill="#000"/>
<circle cx="194.5" cy="282.2" r="2.35" fill="#000"/>
<circle cx="231.2" cy="275.1" r="2.35" fill="#000"/>
<circle cx="267.9" cy="267.9" r="2.35" fill="#000"/>
<circle cx="304.7" cy="261.5" r="2.35" fill="#000"/>
<circle cx="341.4" cy="256.4" r="2.35" fill="#000"/>
<circle cx="378.2" cy="251.3" r="2.35" fill="#000"/>
<circle cx="414.9" cy="244.9" r="2.35" fill="#000"/>
<circle cx="451.6" cy="239.1" r="2.35" fill="#000"/>
<circle cx="488.4" cy="232.4" r="2.35" fill="#000"/>
<circle cx="525.1" cy="225.9" r="2.35" fill="#000"/>
<circle cx="561.9" cy="217.9" r="2.35" fill="#000"/>
<circle cx="598.6" cy="209.7" r="2.35" fill="#000"/>
</g>
<rect x="58.4" y="143.3" width="284" height="27.7" fill="#fff" stroke="#444" stroke-width="1"/>
<rect x="47.5" y="100.5" width="551.1" height="214.0" fill="none" stroke="#000" stroke-width="1.4"/>
<line x1="43.5" x2="47.5" y1="299.3" y2="299.3" stroke="#000" stroke-width="1.3"/>
<text x="39.4" y="303.9" font-size="12.7" text-anchor="end" fill="#111">0</text>
<line x1="43.5" x2="47.5" y1="255.7" y2="255.7" stroke="#000" stroke-width="1.3"/>
<text x="39.4" y="260.3" font-size="12.7" text-anchor="end" fill="#111">2</text>
<line x1="43.5" x2="47.5" y1="212.1" y2="212.1" stroke="#000" stroke-width="1.3"/>
<text x="39.4" y="216.7" font-size="12.7" text-anchor="end" fill="#111">4</text>
<line x1="43.5" x2="47.5" y1="168.6" y2="168.6" stroke="#000" stroke-width="1.3"/>
<text x="39.4" y="173.2" font-size="12.7" text-anchor="end" fill="#111">6</text>
<line x1="43.5" x2="47.5" y1="125.0" y2="125.0" stroke="#000" stroke-width="1.3"/>
<text x="39.4" y="129.6" font-size="12.7" text-anchor="end" fill="#111">8</text>
<line x1="47.5" x2="47.5" y1="314.5" y2="317.7" stroke="#000" stroke-width="1"/>
<text x="47.8" y="328.3" font-size="11.4" text-anchor="middle" textLength="30.3" lengthAdjust="spacingAndGlyphs" fill="#111" stroke="#111" stroke-width="0.35">29OCT</text>
<line x1="157.7" x2="157.7" y1="314.5" y2="317.7" stroke="#000" stroke-width="1"/>
<text x="158.0" y="328.3" font-size="11.4" text-anchor="middle" textLength="24.3" lengthAdjust="spacingAndGlyphs" fill="#111" stroke="#111" stroke-width="0.35">1NOV</text>
<line x1="231.2" x2="231.2" y1="314.5" y2="317.7" stroke="#000" stroke-width="1"/>
<text x="231.5" y="328.3" font-size="11.4" text-anchor="middle" textLength="24.3" lengthAdjust="spacingAndGlyphs" fill="#111" stroke="#111" stroke-width="0.35">3NOV</text>
<line x1="304.7" x2="304.7" y1="314.5" y2="317.7" stroke="#000" stroke-width="1"/>
<text x="305.0" y="328.3" font-size="11.4" text-anchor="middle" textLength="24.3" lengthAdjust="spacingAndGlyphs" fill="#111" stroke="#111" stroke-width="0.35">5NOV</text>
<line x1="378.2" x2="378.2" y1="314.5" y2="317.7" stroke="#000" stroke-width="1"/>
<text x="378.5" y="328.3" font-size="11.4" text-anchor="middle" textLength="24.3" lengthAdjust="spacingAndGlyphs" fill="#111" stroke="#111" stroke-width="0.35">7NOV</text>
<line x1="451.6" x2="451.6" y1="314.5" y2="317.7" stroke="#000" stroke-width="1"/>
<text x="451.9" y="328.3" font-size="11.4" text-anchor="middle" textLength="24.3" lengthAdjust="spacingAndGlyphs" fill="#111" stroke="#111" stroke-width="0.35">9NOV</text>
<line x1="525.1" x2="525.1" y1="314.5" y2="317.7" stroke="#000" stroke-width="1"/>
<text x="525.4" y="328.3" font-size="11.4" text-anchor="middle" textLength="30.3" lengthAdjust="spacingAndGlyphs" fill="#111" stroke="#111" stroke-width="0.35">11NOV</text>
<line x1="598.6" x2="598.6" y1="314.5" y2="317.7" stroke="#000" stroke-width="1"/>
<text x="598.9" y="328.3" font-size="11.4" text-anchor="middle" textLength="30.3" lengthAdjust="spacingAndGlyphs" fill="#111" stroke="#111" stroke-width="0.35">13NOV</text>
<text x="47.7" y="339.7" font-size="11.4" text-anchor="middle" textLength="23.6" lengthAdjust="spacingAndGlyphs" fill="#111" stroke="#111" stroke-width="0.3">2024</text>
<line x1="47.5" x2="47.5" y1="454.9" y2="458.09999999999997" stroke="#000" stroke-width="1"/>
<text x="47.8" y="468.7" font-size="11.4" text-anchor="middle" textLength="30.3" lengthAdjust="spacingAndGlyphs" fill="#111" stroke="#111" stroke-width="0.35">29OCT</text>
<line x1="157.7" x2="157.7" y1="454.9" y2="458.09999999999997" stroke="#000" stroke-width="1"/>
<text x="158.0" y="468.7" font-size="11.4" text-anchor="middle" textLength="24.3" lengthAdjust="spacingAndGlyphs" fill="#111" stroke="#111" stroke-width="0.35">1NOV</text>
<line x1="231.2" x2="231.2" y1="454.9" y2="458.09999999999997" stroke="#000" stroke-width="1"/>
<text x="231.5" y="468.7" font-size="11.4" text-anchor="middle" textLength="24.3" lengthAdjust="spacingAndGlyphs" fill="#111" stroke="#111" stroke-width="0.35">3NOV</text>
<line x1="304.7" x2="304.7" y1="454.9" y2="458.09999999999997" stroke="#000" stroke-width="1"/>
<text x="305.0" y="468.7" font-size="11.4" text-anchor="middle" textLength="24.3" lengthAdjust="spacingAndGlyphs" fill="#111" stroke="#111" stroke-width="0.35">5NOV</text>
<line x1="378.2" x2="378.2" y1="454.9" y2="458.09999999999997" stroke="#000" stroke-width="1"/>
<text x="378.5" y="468.7" font-size="11.4" text-anchor="middle" textLength="24.3" lengthAdjust="spacingAndGlyphs" fill="#111" stroke="#111" stroke-width="0.35">7NOV</text>
<line x1="451.6" x2="451.6" y1="454.9" y2="458.09999999999997" stroke="#000" stroke-width="1"/>
<text x="451.9" y="468.7" font-size="11.4" text-anchor="middle" textLength="24.3" lengthAdjust="spacingAndGlyphs" fill="#111" stroke="#111" stroke-width="0.35">9NOV</text>
<line x1="525.1" x2="525.1" y1="454.9" y2="458.09999999999997" stroke="#000" stroke-width="1"/>
<text x="525.4" y="468.7" font-size="11.4" text-anchor="middle" textLength="30.3" lengthAdjust="spacingAndGlyphs" fill="#111" stroke="#111" stroke-width="0.35">11NOV</text>
<line x1="598.6" x2="598.6" y1="454.9" y2="458.09999999999997" stroke="#000" stroke-width="1"/>
<text x="598.9" y="468.7" font-size="11.4" text-anchor="middle" textLength="30.3" lengthAdjust="spacingAndGlyphs" fill="#111" stroke="#111" stroke-width="0.35">13NOV</text>
<text x="47.7" y="480.1" font-size="11.4" text-anchor="middle" textLength="23.6" lengthAdjust="spacingAndGlyphs" fill="#111" stroke="#111" stroke-width="0.3">2024</text>
<text transform="translate(13.3,201.8) rotate(-90)" font-size="12.2" text-anchor="middle" textLength="41.3" lengthAdjust="spacingAndGlyphs" fill="#111">inches</text>
<text transform="translate(13.3,399.5) rotate(-90)" font-size="12.2" text-anchor="middle" textLength="41.3" lengthAdjust="spacingAndGlyphs" fill="#111">inches</text>
<line x1="64.3" x2="103.9" y1="129.1" y2="129.1" stroke="#b2b2b2" stroke-width="1"/>
<circle cx="64.3" cy="129.1" r="2.6" fill="#a2a2a2"/><circle cx="103.9" cy="129.1" r="2.6" fill="#a2a2a2"/>
<rect x="272.6" y="124.5" width="39.1" height="4.6" fill="#f0bc6a"/>
<rect x="272.6" y="129.1" width="39.1" height="4.2" fill="#78ee00"/>
<line x1="272.6" x2="311.7" y1="129.1" y2="129.1" stroke="#000" stroke-width="1"/>
<circle cx="272.6" cy="129.1" r="2.35" fill="#000"/><circle cx="311.7" cy="129.1" r="2.35" fill="#000"/>
<line x1="480.3" x2="519.7" y1="128.9" y2="128.9" stroke="#1a32ff" stroke-width="2.4" stroke-linecap="round"/>
<line x1="46.8" x2="599.3000000000001" y1="455.09999999999997" y2="455.09999999999997" stroke="#000" stroke-width="1.4"/>
<rect x="46.8" y="418.2" width="13.6" height="36.8" fill="#78ee00"/>
<rect x="71.3" y="429.1" width="25.8" height="25.9" fill="#78ee00"/>
<rect x="108.1" y="427.8" width="25.8" height="27.2" fill="#78ee00"/>
<rect x="144.8" y="421.4" width="25.8" height="33.6" fill="#78ee00"/>
<rect x="181.6" y="399.3" width="25.8" height="55.7" fill="#78ee00"/>
<rect x="218.3" y="380.6" width="25.8" height="74.4" fill="#78ee00"/>
<rect x="255.0" y="379.9" width="25.8" height="75.1" fill="#78ee00"/>
<rect x="291.8" y="387.4" width="25.8" height="67.6" fill="#78ee00"/>
<rect x="328.5" y="402.0" width="25.8" height="53.0" fill="#78ee00"/>
<rect x="365.3" y="400.9" width="25.8" height="54.1" fill="#78ee00"/>
<rect x="402.0" y="388.6" width="25.8" height="66.4" fill="#78ee00"/>
<rect x="438.7" y="394.3" width="25.8" height="60.7" fill="#78ee00"/>
<rect x="475.5" y="384.9" width="25.8" height="70.1" fill="#78ee00"/>
<rect x="512.2" y="386.5" width="25.8" height="68.5" fill="#78ee00"/>
<rect x="549.0" y="371.0" width="25.8" height="84.0" fill="#78ee00"/>
<rect x="585.7" y="368.9" width="13.6" height="86.1" fill="#78ee00"/>
<line x1="52.0" x2="598.6" y1="432.5" y2="432.5" stroke="#000" stroke-opacity="0.42" stroke-width="1" stroke-dasharray="1.15 3.92"/>
<line x1="52.0" x2="598.6" y1="409.5" y2="409.5" stroke="#000" stroke-opacity="0.42" stroke-width="1" stroke-dasharray="1.15 3.92"/>
<line x1="52.0" x2="598.6" y1="386.5" y2="386.5" stroke="#000" stroke-opacity="0.42" stroke-width="1" stroke-dasharray="1.15 3.92"/>
<line x1="52.0" x2="598.6" y1="363.5" y2="363.5" stroke="#000" stroke-opacity="0.42" stroke-width="1" stroke-dasharray="1.15 3.92"/>
<path d="M47.5 418.2 V342.6 H598.6 V368.9" fill="none" stroke="#000" stroke-width="1.4"/>
<line x1="43.5" x2="47.5" y1="454.9" y2="454.9" stroke="#000" stroke-width="1.3"/>
<text x="39.4" y="459.5" font-size="12.7" text-anchor="end" fill="#111">0</text>
<line x1="43.5" x2="47.5" y1="432.1" y2="432.1" stroke="#000" stroke-width="1.3"/>
<text x="39.4" y="436.7" font-size="12.7" text-anchor="end" fill="#111">0.1</text>
<line x1="43.5" x2="47.5" y1="409.3" y2="409.3" stroke="#000" stroke-width="1.3"/>
<text x="39.4" y="413.9" font-size="12.7" text-anchor="end" fill="#111">0.2</text>
<line x1="43.5" x2="47.5" y1="386.5" y2="386.5" stroke="#000" stroke-width="1.3"/>
<text x="39.4" y="391.1" font-size="12.7" text-anchor="end" fill="#111">0.3</text>
<line x1="43.5" x2="47.5" y1="363.7" y2="363.7" stroke="#000" stroke-width="1.3"/>
<text x="39.4" y="368.3" font-size="12.7" text-anchor="end" fill="#111">0.4</text>
<text y="23.8" font-size="16.9" font-family="DejaVu Sans, Liberation Sans, sans-serif" fill="#000"><tspan x="168.60" textLength="54.14">Brazil</tspan> <tspan x="232.70" textLength="91.05">Soybeans</tspan> <tspan x="334.86" textLength="120.46">Precipitation</tspan></text>
<text y="46.9" font-size="14.1" font-family="DejaVu Sans, Liberation Sans, sans-serif" fill="#000"><tspan x="97.96" textLength="67.69">Forecast</tspan> <tspan x="174.64" textLength="98.82">Precipitation</tspan> <tspan x="282.21" textLength="80.44">Compared</tspan> <tspan x="371.03" textLength="16.07">to</tspan> <tspan x="394.87" textLength="56.72">Normal</tspan> <tspan x="461.57" textLength="64.24">(inches)</tspan></text>
<text y="66.5" font-size="14.1" font-family="DejaVu Sans, Liberation Sans, sans-serif" fill="#000"><tspan x="171.47" textLength="82.36">Production</tspan><tspan x="252.14" textLength="11.45" lengthAdjust="spacingAndGlyphs">-</tspan><tspan x="262.00" textLength="77.10">Weighted</tspan> <tspan x="347.49" textLength="35.04">Area</tspan> <tspan x="392.49" textLength="59.57">Average</tspan></text>
<text y="86.4" font-size="14.1" font-family="DejaVu Sans, Liberation Sans, sans-serif" fill="#000"><tspan x="116.20" textLength="20.23">15</tspan><tspan x="135.53" textLength="14.96" lengthAdjust="spacingAndGlyphs">-</tspan><tspan x="148.25" textLength="32.58">Day</tspan> <tspan x="188.87" textLength="72.83">Forecast</tspan> <tspan x="270.72" textLength="81.57">Beginning</tspan> <tspan x="360.29" textLength="21.94">29</tspan> <tspan x="392.29" textLength="62.87">October</tspan> <tspan x="465.81" textLength="42.90">2024</tspan></text>
<text y="117.5" font-size="11.2" font-family="DejaVu Sans, Liberation Sans, sans-serif" fill="#000"><tspan x="58.68" textLength="49.96">National</tspan> <tspan x="115.85" textLength="47.48">Weather</tspan> <tspan x="170.09" textLength="43.96">Service</tspan> <tspan x="221.58" textLength="37.23">Global</tspan> <tspan x="264.89" textLength="53.51">Forecast</tspan> <tspan x="325.57" textLength="44.37">System</tspan></text>
<text y="132.7" font-size="11.2" font-family="DejaVu Sans, Liberation Sans, sans-serif" fill="#000"><tspan x="115.35" textLength="57.68">Ensemble</tspan> <tspan x="180.10" textLength="55.10">Members</tspan></text>
<text y="132.7" font-size="11.2" font-family="DejaVu Sans, Liberation Sans, sans-serif" fill="#000"><tspan x="322.64" textLength="58.14">Ensemble</tspan> <tspan x="388.32" textLength="47.42">Average</tspan></text>
<text y="132.7" font-size="11.2" font-family="DejaVu Sans, Liberation Sans, sans-serif" fill="#000"><tspan x="530.64" textLength="44.86">Normal</tspan></text>
<text y="155.1" font-size="10.3" font-family="DejaVu Sans, Liberation Sans, sans-serif" fill="#000"><tspan x="72.97" textLength="41.86">Percent</tspan> <tspan x="121.43" textLength="12.41">of</tspan> <tspan x="141.36" textLength="30.27">Crop:</tspan></text>
<text y="166.1" font-size="10.3" font-family="DejaVu Sans, Liberation Sans, sans-serif" fill="#000"><tspan x="63.84" textLength="48.08">Receives</tspan> <tspan x="119.23" textLength="10.52">at</tspan> <tspan x="136.97" textLength="34.58">Least:</tspan></text>
<text y="155.1" font-size="10.3" font-family="DejaVu Sans, Liberation Sans, sans-serif" fill="#000"><tspan x="187.74" textLength="15.63">90</tspan></text>
<text y="155.1" font-size="10.3" font-family="DejaVu Sans, Liberation Sans, sans-serif" fill="#000"><tspan x="243.87" textLength="15.22">50</tspan></text>
<text y="155.1" font-size="10.3" font-family="DejaVu Sans, Liberation Sans, sans-serif" fill="#000"><tspan x="300.85" textLength="14.39">10</tspan></text>
<text y="166.1" font-size="10.3" font-family="DejaVu Sans, Liberation Sans, sans-serif" fill="#000"><tspan x="181.55" textLength="19.65">3.2</tspan> <tspan x="206.89" textLength="14.72">in.</tspan></text>
<text y="166.1" font-size="10.3" font-family="DejaVu Sans, Liberation Sans, sans-serif" fill="#000"><tspan x="239.03" textLength="17.64">4.0</tspan> <tspan x="263.34" textLength="14.23">in.</tspan></text>
<text y="166.1" font-size="10.3" font-family="DejaVu Sans, Liberation Sans, sans-serif" fill="#000"><tspan x="294.23" textLength="18.87">5.4</tspan> <tspan x="318.94" textLength="14.40">in.</tspan></text>
<text y="358.0" font-size="11.2" font-family="DejaVu Sans, Liberation Sans, sans-serif" fill="#000"><tspan x="58.53" textLength="57.76">Ensemble</tspan> <tspan x="124.23" textLength="47.27">Average</tspan> <tspan x="178.68" textLength="28.19">Daily</tspan> <tspan x="213.68" textLength="77.25">Precipitation</tspan></text>
<text y="357.0" font-size="11.8" font-family="DejaVu Sans, Liberation Sans, sans-serif" fill="#000"><tspan x="461.12">©</tspan> <tspan x="477.80" textLength="33.00">World</tspan> <tspan x="517.26" textLength="15.70">Ag</tspan> <tspan x="538.84" textLength="47.42">Weather</tspan></text>
</svg>
</body></html>
